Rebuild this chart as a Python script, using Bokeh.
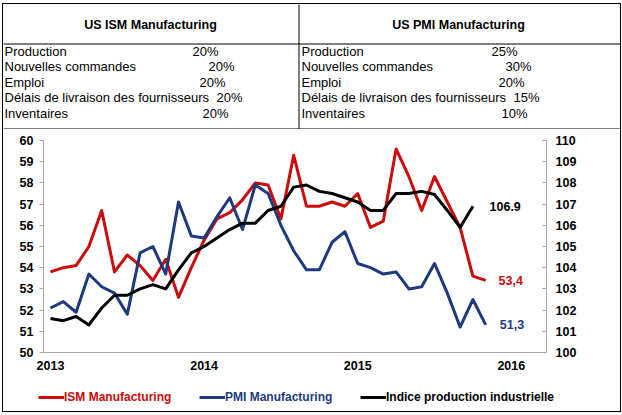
from bokeh.plotting import figure
from bokeh.models import Range1d, LinearAxis, FixedTicker, Legend, LegendItem, ColumnDataSource
from bokeh.layouts import column, row
from bokeh.core.properties import value
from bokeh.embed import file_html
from bokeh.resources import INLINE

FONT = "Liberation Sans"
RED = "#CC0A0A"
NAVY = "#1E3A7E"
BLACK = "#000000"
GRAY = "#A6A6A6"

# ---------------- data ----------------
year_ticks = [0, 12, 24, 36]
year_labels = ["2013", "2014", "2015", "2016"]

ism = [53.8, 54.0, 54.1, 55.0, 56.7, 53.8, 54.6, 54.1, 53.4, 54.4, 52.6, 54.0,
       55.3, 56.3, 56.6, 57.2, 58.0, 57.9, 56.3, 59.3, 56.9, 56.9, 57.1, 56.9,
       57.5, 55.9, 56.2, 59.6, 58.3, 56.7, 58.3, 57.1, 55.9, 53.6, 53.4]
pmi = [52.1, 52.4, 51.9, 53.7, 53.1, 52.8, 51.8, 54.7, 55.0, 53.7, 57.1, 55.5,
       55.4, 56.4, 57.3, 55.8, 57.9, 57.5, 56.0, 54.8, 53.9, 53.9, 55.2, 55.7,
       54.2, 54.0, 53.7, 53.8, 53.0, 53.1, 54.2, 52.8, 51.2, 52.5, 51.3]
ipi = [101.6, 101.5, 101.7, 101.3, 102.1, 102.7, 102.7, 103.0, 103.2, 103.0, 103.9, 104.7,
       105.0, 105.4, 105.8, 106.1, 106.1, 106.7, 106.9, 107.8, 107.9, 107.6, 107.5, 107.3,
       107.1, 106.7, 106.7, 107.5, 107.5, 107.6, 107.45, 106.7, 105.9, 106.9]

ism_components = ["Production", "Nouvelles commandes", "Emploi",
                  "Délais de livraison des fournisseurs", "Inventaires"]
ism_weights = ["20%", "20%", "20%", "20%", "20%"]
pmi_components = ["Production", "Nouvelles commandes", "Emploi",
                  "Délais de livraison des fournisseurs", "Inventaires"]
pmi_weights = ["25%", "30%", "20%", "15%", "10%"]

W = 617
TH = 125

# ---------------- table ----------------
t = figure(width=W, height=TH, x_range=Range1d(0, W), y_range=Range1d(TH, 0),
           output_backend="svg", toolbar_location=None, min_border=0,
           x_axis_location=None, y_axis_location=None)
t.grid.visible = False
t.outline_line_color = None
t.segment(x0=[0, 295.5, 0], y0=[39.5, 0, 124.5], x1=[W, 295.5, W], y1=[39.5, TH, 124.5],
          line_color="black", line_width=1)

t.text(x=[147, 455], y=[20, 20], text=["US ISM Manufacturing", "US PMI Manufacturing"],
       text_font=value(FONT), text_font_size="12.5px", text_font_style="bold",
       text_align="center", text_baseline="middle", text_color="black")

rows_y = [46.5, 62, 77.5, 93, 108.5]
t.text(x=[1] * 5, y=rows_y, text=ism_components, text_font=value(FONT),
       text_font_size="13px", text_align="left", text_baseline="middle", text_color="black")
t.text(x=[189, 205, 196, 213, 199], y=rows_y, text=ism_weights, text_font=value(FONT),
       text_font_size="13px", text_align="left", text_baseline="middle", text_color="black")
t.text(x=[298] * 5, y=rows_y, text=pmi_components, text_font=value(FONT),
       text_font_size="13px", text_align="left", text_baseline="middle", text_color="black")
t.text(x=[488, 502, 495, 510, 498], y=rows_y, text=pmi_weights, text_font=value(FONT),
       text_font_size="13px", text_align="left", text_baseline="middle", text_color="black")

# ---------------- chart ----------------
p = figure(width=W, height=251, x_range=Range1d(-0.547, 38.75), y_range=Range1d(50, 60),
           output_backend="svg", toolbar_location=None,
           min_border_left=40, min_border_right=74, min_border_top=11, min_border_bottom=28)
p.grid.visible = False
p.outline_line_color = None
p.extra_y_ranges = {"ipi": Range1d(100, 110)}

src_ism = ColumnDataSource(dict(x=list(range(len(ism))), y=ism))
src_pmi = ColumnDataSource(dict(x=list(range(len(pmi))), y=pmi))
src_ipi = ColumnDataSource(dict(x=list(range(len(ipi))), y=ipi))

p.line("x", "y", source=src_ism, line_color=RED, line_width=3, line_join="round")
p.line("x", "y", source=src_pmi, line_color=NAVY, line_width=3, line_join="round")
p.line("x", "y", source=src_ipi, line_color=BLACK, line_width=3, line_join="round",
       y_range_name="ipi")

def style_axis(ax):
    ax.axis_line_color = GRAY
    ax.major_tick_line_color = GRAY
    ax.minor_tick_line_color = None
    ax.major_label_text_font = FONT
    ax.major_label_text_font_style = "bold"
    ax.major_label_text_font_size = "12.5px"
    ax.major_label_text_color = "black"

yl = p.yaxis[0]
yl.ticker = FixedTicker(ticks=list(range(50, 61)))
style_axis(yl)
yl.major_tick_out = 4
yl.major_tick_in = 0
yl.major_label_standoff = 6

yr = LinearAxis(y_range_name="ipi", ticker=FixedTicker(ticks=list(range(100, 111))))
style_axis(yr)
yr.major_tick_out = 0
yr.major_tick_in = 4
yr.major_label_standoff = 9
p.add_layout(yr, "right")

xb = p.xaxis[0]
xb.ticker = FixedTicker(ticks=year_ticks)
xb.major_label_overrides = {t_: l for t_, l in zip(year_ticks, year_labels)}
style_axis(xb)
xb.major_tick_line_color = None
xb.major_tick_out = 0
xb.major_tick_in = 0
xb.major_label_standoff = 8

# end labels
p.text(x=[34.3], y=[ipi[-1]], text=[f"{ipi[-1]:.1f}"], y_range_name="ipi",
       text_font=value(FONT), text_font_style="bold", text_font_size="12.5px",
       text_color=BLACK, text_baseline="middle")
p.text(x=[35.0], y=[ism[-1]], text=[f"{ism[-1]:.1f}".replace(".", ",")],
       text_font=value(FONT), text_font_style="bold", text_font_size="12.5px",
       text_color=RED, text_baseline="middle")
p.text(x=[35.1], y=[pmi[-1]], text=[f"{pmi[-1]:.1f}".replace(".", ",")],
       text_font=value(FONT), text_font_style="bold", text_font_size="12.5px",
       text_color=NAVY, text_baseline="middle")

# ---------------- legend strip ----------------
LH = 31
lf = figure(width=W, height=LH, x_range=Range1d(0, 1), y_range=Range1d(0, 1),
            output_backend="svg", toolbar_location=None, min_border=0,
            x_axis_location=None, y_axis_location=None)
lf.grid.visible = False
lf.outline_line_color = None

series = [("ISM Manufacturing", RED, 35), ("PMI Manufacturing", NAVY, 196),
          ("Indice production industrielle", BLACK, 357)]
for label, color, xpos in series:
    # legend keys only: the line sits outside the visible range of this strip
    r = lf.line(x=[-2, -1], y=[-2, -2], line_color=color, line_width=3)
    lg = Legend(items=[LegendItem(label=label, renderers=[r])], location=(xpos, 7),
                orientation="horizontal", label_text_color=color,
                label_text_font=FONT, label_text_font_style="bold",
                label_text_font_size="12px", glyph_width=26, glyph_height=14,
                label_height=14, label_standoff=0, padding=0, margin=0, spacing=0,
                border_line_color=None, background_fill_alpha=0)
    lf.add_layout(lg)

layout = column(row(t), row(p), row(lf),
                styles={"border": "1px solid black", "margin-left": "2px", "margin-top": "3px"})

open("out.html", "w").write(file_html(layout, INLINE))
